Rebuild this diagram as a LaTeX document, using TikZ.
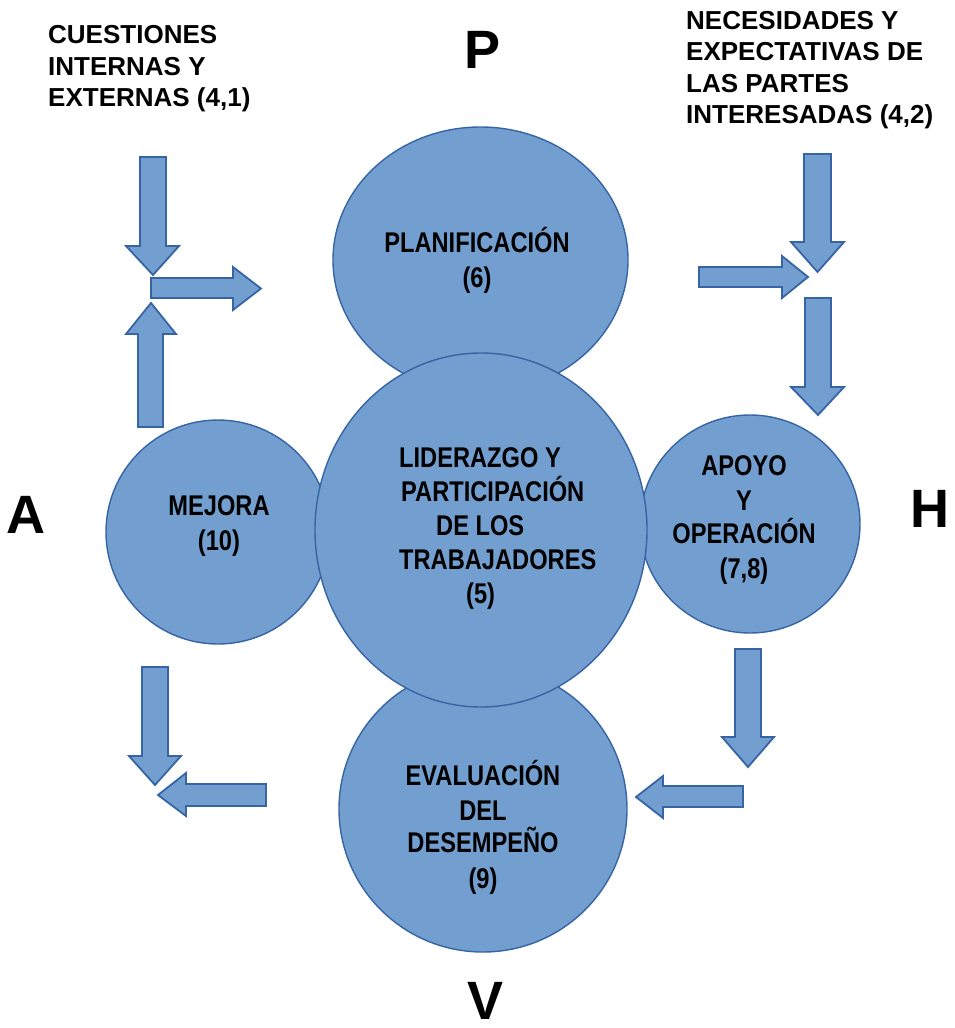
\documentclass[tikz,border=0pt]{standalone}
\usepackage{fontspec}
\setmainfont{Liberation Sans}
\newfontfamily\narrowfont[FakeStretch=0.83]{Liberation Sans}
\usetikzlibrary{shapes.geometric}
\definecolor{shapefill}{RGB}{114,159,207}
\definecolor{shapeline}{RGB}{54,100,164}
\tikzset{
  blob/.style={ellipse, draw=shapeline, fill=shapefill, line width=1.4pt, inner sep=0pt},
  blockarrow/.style={draw=shapeline, fill=shapefill, line width=1.8pt, line join=miter},
  intext/.style={inner sep=0pt, font=\narrowfont\bfseries\fontsize{28.5}{34}\selectfont},
  toptext/.style={inner sep=0pt, font=\bfseries\fontsize{26}{32}\selectfont},
  bigletter/.style={inner sep=0pt, font=\bfseries\fontsize{54}{60}\selectfont}
}
\begin{document}
\begin{tikzpicture}[x=1pt,y=-1pt]
\useasboundingbox (0,0) rectangle (955,1028);

% circles (central one last, on top)
\node[blob, minimum width=295pt, minimum height=266pt] (plan) at (480.5,260) {};
\node[blob, minimum width=224pt, minimum height=224pt] (mejora) at (218,532) {};
\node[blob, minimum width=220pt, minimum height=218pt] (apoyo) at (750,524) {};
\node[blob, minimum width=288pt, minimum height=286pt] (eval) at (483,809) {};
\node[blob, minimum width=332pt, minimum height=354pt] (lider) at (481,530) {};

% block arrows
\draw[blockarrow] (140,157) -- (166,157) -- (166,246) -- (179,246) -- (153,275) -- (126,246) -- (140,246) -- cycle;
\draw[blockarrow] (151,278) -- (233,278) -- (233,267) -- (261,288.5) -- (233,310) -- (233,298) -- (151,298) -- cycle;
\draw[blockarrow] (138,427) -- (138,334) -- (126,334) -- (151,303) -- (176,334) -- (163,334) -- (163,427) -- cycle;

\draw[blockarrow] (804,154) -- (831,154) -- (831,242) -- (844,242) -- (817.5,272) -- (791,242) -- (804,242) -- cycle;
\draw[blockarrow] (699,267) -- (782,267) -- (782,256) -- (808,277) -- (782,298) -- (782,287) -- (699,287) -- cycle;
\draw[blockarrow] (805,298) -- (831,298) -- (831,387) -- (844,387) -- (818,415) -- (791,387) -- (805,387) -- cycle;

\draw[blockarrow] (142,667) -- (168,667) -- (168,756) -- (181,756) -- (155,785) -- (129,756) -- (142,756) -- cycle;
\draw[blockarrow] (266,784) -- (266,806) -- (186,806) -- (186,816) -- (158,795) -- (186,773) -- (186,784) -- cycle;

\draw[blockarrow] (735,649) -- (761,649) -- (761,737) -- (774,737) -- (748,767) -- (722,737) -- (735,737) -- cycle;
\draw[blockarrow] (743,786) -- (743,807) -- (663,807) -- (663,818) -- (636,797) -- (663,776) -- (663,786) -- cycle;

% texts in circles
\node[intext, anchor=base] (planA) at (477,252) {PLANIFICACIÓN};
\node[intext, anchor=base] (planB) at (477,287) {(6)};

\node[intext, anchor=base west] (liderA) at (399,467) {LIDERAZGO Y};
\node[intext, anchor=base west] (liderB) at (401,501) {PARTICIPACIÓN};
\node[intext, anchor=base west] (liderC) at (436,535) {DE LOS};
\node[intext, anchor=base west] (liderD) at (399,569) {TRABAJADORES};
\node[intext, anchor=base west] (liderE) at (466,603) {(5)};

\node[intext, anchor=base] (mejA) at (219,515) {MEJORA};
\node[intext, anchor=base] (mejB) at (219,550) {(10)};

\node[intext, anchor=base] (apA) at (744,475) {APOYO};
\node[intext, anchor=base] (apB) at (744,510) {Y};
\node[intext, anchor=base] (apC) at (744,543) {OPERACIÓN};
\node[intext, anchor=base] (apD) at (744,578) {(7,8)};

\node[intext, anchor=base] (evA) at (483,785) {EVALUACIÓN};
\node[intext, anchor=base] (evB) at (483,820) {DEL};
\node[intext, anchor=base] (evC) at (483,852) {DESEMPEÑO};
\node[intext, anchor=base] (evD) at (483,888) {(9)};

% top labels
\node[toptext, anchor=base west] (cuA) at (48,43) {CUESTIONES};
\node[toptext, anchor=base west] (cuB) at (48,75) {INTERNAS Y};
\node[toptext, anchor=base west] (cuC) at (48,106) {EXTERNAS (4,1)};

\node[toptext, anchor=base west] (neA) at (686,29) {NECESIDADES Y};
\node[toptext, anchor=base west] (neB) at (686,60) {EXPECTATIVAS DE};
\node[toptext, anchor=base west] (neC) at (686,92) {LAS PARTES};
\node[toptext, anchor=base west] (neD) at (686,123) {INTERESADAS (4,2)};

% PHVA letters
\node[bigletter, anchor=base] (letP) at (483,68) {P};
\node[bigletter, anchor=base] (letA) at (26,533) {A};
\node[bigletter, anchor=base] (letH) at (930,527) {H};
\node[bigletter, anchor=base] (letV) at (486,1019) {V};
\end{tikzpicture}
\end{document}
